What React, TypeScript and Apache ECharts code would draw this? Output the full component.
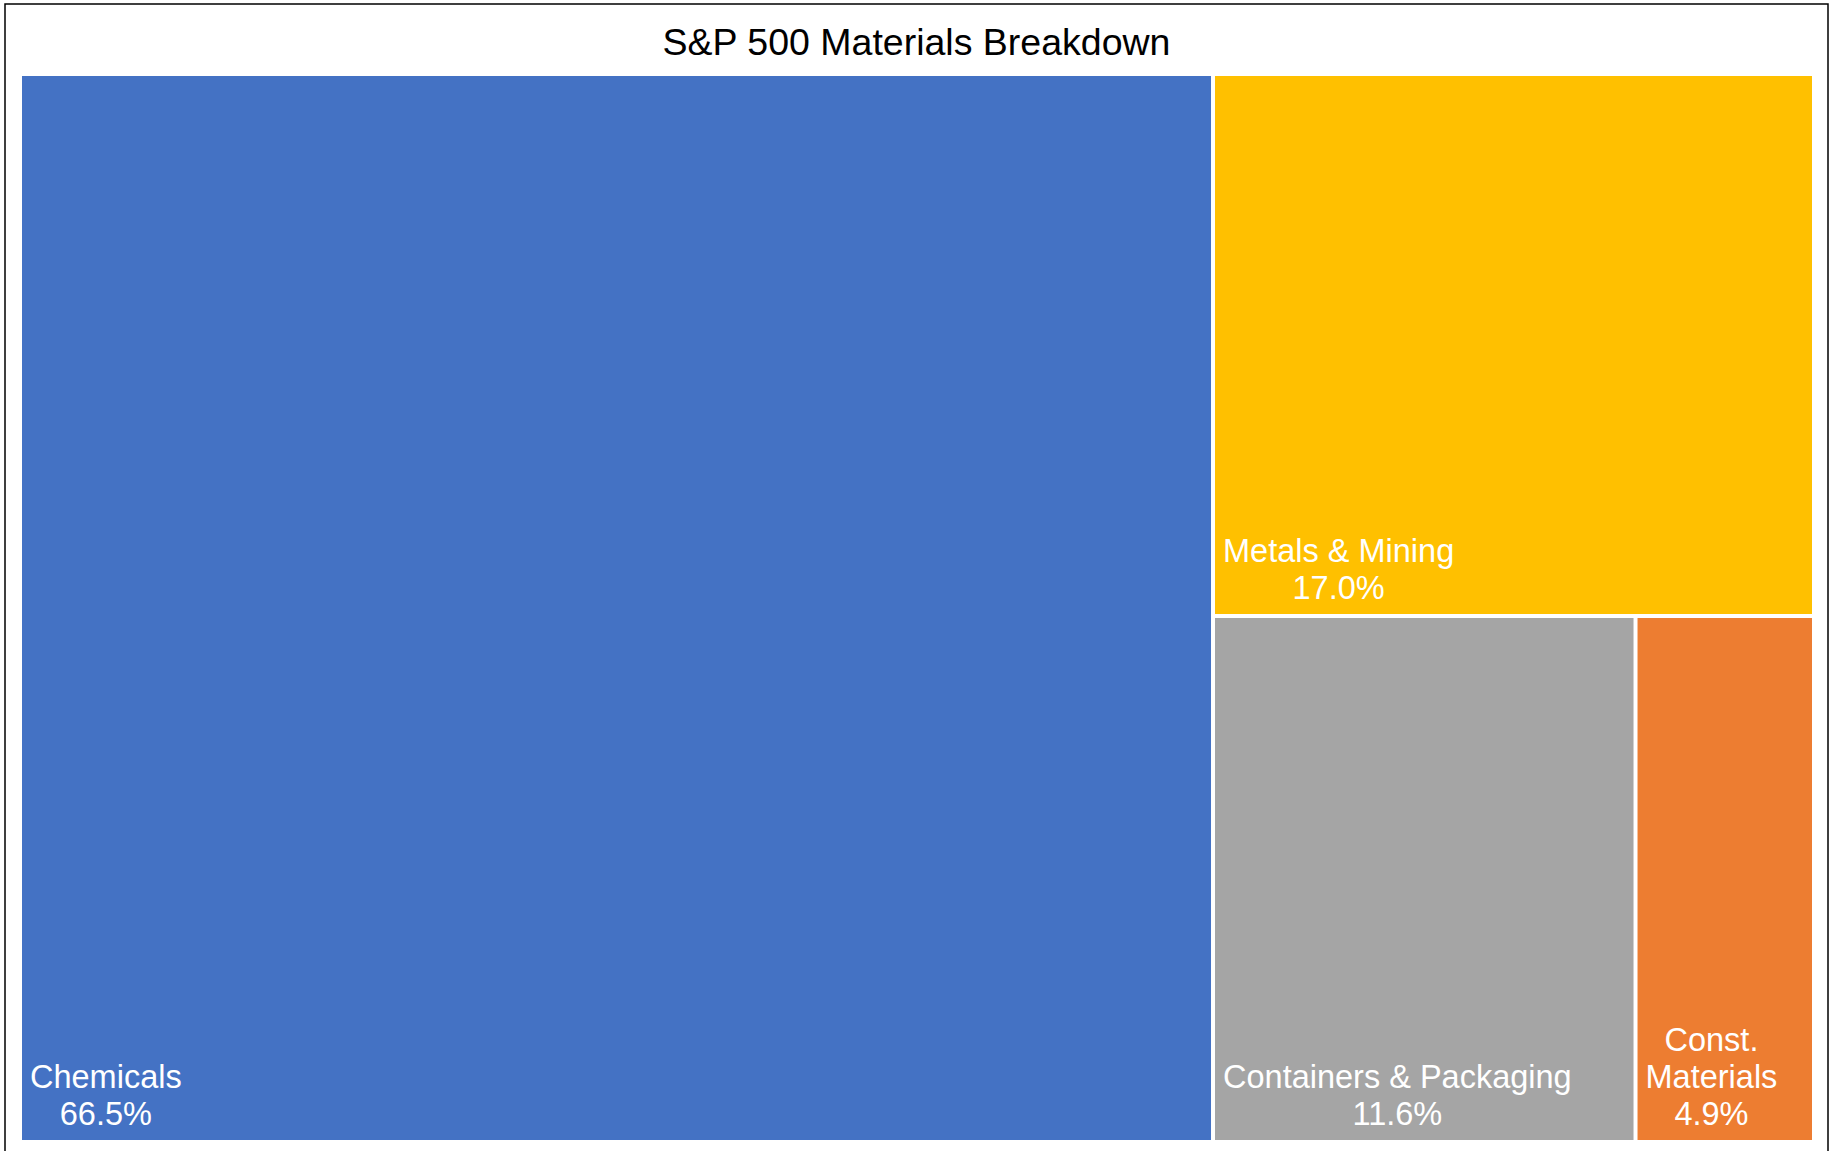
import React, { useEffect, useRef } from "react";
import * as echarts from "echarts";

const titleText = "S&P 500 Materials Breakdown";
const categories = ["Chemicals", "Metals & Mining", "Containers & Packaging", "Const. Materials"];
const labelLines = [["Chemicals"], ["Metals & Mining"], ["Containers & Packaging"], ["Const.", "Materials"]];
const weights = [66.5, 17.0, 11.6, 4.9];
const colors = ["#4472C4", "#FFC000", "#A5A5A5", "#ED7D31"];

const FONT = '"Liberation Sans", Arial, sans-serif';
const LABEL_SIZE = 32.5;
const LABEL_LINE = 37;
const LABEL_LEFT = 8;

function measure(lines: string[]): number {
  const c = document.createElement("canvas").getContext("2d");
  if (!c) return 100;
  c.font = `${LABEL_SIZE}px ${FONT}`;
  return Math.max(...lines.map((l) => c.measureText(l).width));
}

export default function App() {
  const ref = useRef<HTMLDivElement>(null);
  useEffect(() => {
    if (!ref.current) return;
    const chart = echarts.init(ref.current, null, { renderer: "svg" });
    const data = categories.map((name, i) => {
      const lines = [...labelLines[i], weights[i].toFixed(1) + "%"];
      const w = measure(lines);
      return {
        name,
        value: weights[i],
        itemStyle: { color: colors[i] },
        label: { offset: [LABEL_LEFT + w / 2, -7.5] },
      };
    });
    chart.setOption({
      animation: false,
      backgroundColor: "#ffffff",
      title: {
        text: titleText,
        left: "center",
        top: 17,
        textStyle: {
          fontFamily: FONT,
          fontSize: 37.5,
          fontWeight: "normal",
          color: "#000000",
          lineHeight: 40,
        },
      },
      graphic: [
        {
          type: "rect",
          silent: true,
          shape: { x: 5, y: 4, width: 1823, height: 1180 },
          style: { fill: "none", stroke: "#000000", lineWidth: 1.5 },
        },
      ],
      series: [
        {
          type: "treemap",
          left: 22,
          top: 76,
          width: 1790,
          height: 1064,
          roam: false,
          nodeClick: false,
          breadcrumb: { show: false },
          itemStyle: { gapWidth: 4, borderWidth: 0, borderColor: "#ffffff" },
          levels: [{ itemStyle: { gapWidth: 4, borderWidth: 0 } }],
          label: {
            show: true,
            position: "insideBottomLeft",
            distance: 0,
            padding: 0,
            align: "center",
            verticalAlign: "bottom",
            color: "#ffffff",
            fontFamily: FONT,
            fontSize: LABEL_SIZE,
            lineHeight: LABEL_LINE,
            overflow: "none",
            formatter: (p: any) => {
              const i = categories.indexOf(p.name);
              return [...labelLines[i], weights[i].toFixed(1) + "%"].join("\n");
            },
          },
          data,
        },
      ],
    });
    return () => chart.dispose();
  }, []);
  return (
    <div
      ref={ref}
      style={{ position: "absolute", left: 0, top: 0, width: 1833, height: 1151 }}
    />
  );
}
